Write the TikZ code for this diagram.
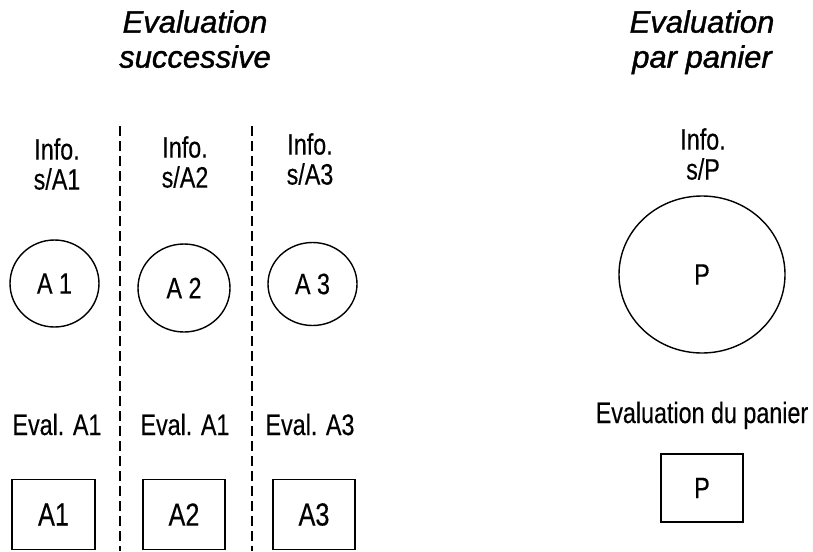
\documentclass[tikz,border=0pt]{standalone}
\usepackage{fontspec}
\setmainfont{Liberation Sans}
\newfontfamily\bodyf[FakeStretch=0.79,FakeBold=0.3]{Liberation Sans}
\newfontfamily\titlef[FakeBold=1.2]{Liberation Sans}
\usetikzlibrary{shapes.geometric}
\begin{document}
\begin{tikzpicture}[x=1pt,y=-1pt,
  titletext/.style={font=\titlef\itshape\fontsize{31}{35}\selectfont, align=center, anchor=north, inner sep=0pt},
  infotext/.style={font=\bodyf\fontsize{29.5}{30}\selectfont, align=center, anchor=north, inner sep=0pt},
  lbltext/.style={font=\bodyf\fontsize{29.5}{30}\selectfont, anchor=base, inner sep=0pt},
  oval/.style={ellipse, draw, line width=1.4pt, inner sep=0pt, font=\bodyf\fontsize{29.5}{30}\selectfont},
  boxnode/.style={rectangle, draw, line width=1.4pt, inner sep=0pt, font=\bodyf\fontsize{32}{33}\selectfont},
  sep/.style={line width=2pt, dash pattern=on 10pt off 5pt}
]
\useasboundingbox (0,0) rectangle (813,551);

% titles
\node[titletext] (t1) at (195,10) {Evaluation\\successive};
\node[titletext] (t2) at (702,10) {Evaluation\\par panier};

% separators
\coordinate (s1a) at (120,126); \coordinate (s1b) at (120,551);
\coordinate (s2a) at (252,126); \coordinate (s2b) at (252,551);
\draw[sep] (s1a) -- (s1b);
\draw[sep] (s2a) -- (s2b);

% info labels
\node[infotext] (i1) at (57,138) {Info.\\s/A1};
\node[infotext] (i2) at (185,136) {Info.\\s/A2};
\node[infotext] (i3) at (310,133) {Info.\\s/A3};
\node[infotext] (ip) at (703,128) {Info.\\s/P};

% circles
\node[oval, minimum width=89pt, minimum height=87pt] (c1) at (54.5,283.5) {A 1};
\node[oval, minimum width=92pt, minimum height=88pt] (c2) at (184,288) {A 2};
\node[oval, minimum width=89pt, minimum height=83pt] (c3) at (312.5,284) {A 3};
\node[oval, minimum width=166pt, minimum height=157pt] (cp) at (702,274.5) {P};

% evaluation labels
\node[lbltext] (e1) at (57,435) {Eval. A1};
\node[lbltext] (e2) at (185,435) {Eval. A1};
\node[lbltext] (e3) at (310,435) {Eval. A3};
\node[lbltext] (ep) at (702,423) {Evaluation du panier};

% boxes
\node[boxnode, minimum width=83pt, minimum height=70pt] (b1) at (53.5,514.5) {A1};
\node[boxnode, minimum width=82pt, minimum height=70pt] (b2) at (184,514.5) {A2};
\node[boxnode, minimum width=82pt, minimum height=70pt] (b3) at (314,514.5) {A3};
\node[boxnode, minimum width=82pt, minimum height=68pt, font=\bodyf\fontsize{29.5}{30}\selectfont] (bp) at (702,488) {P};
\end{tikzpicture}
\end{document}
